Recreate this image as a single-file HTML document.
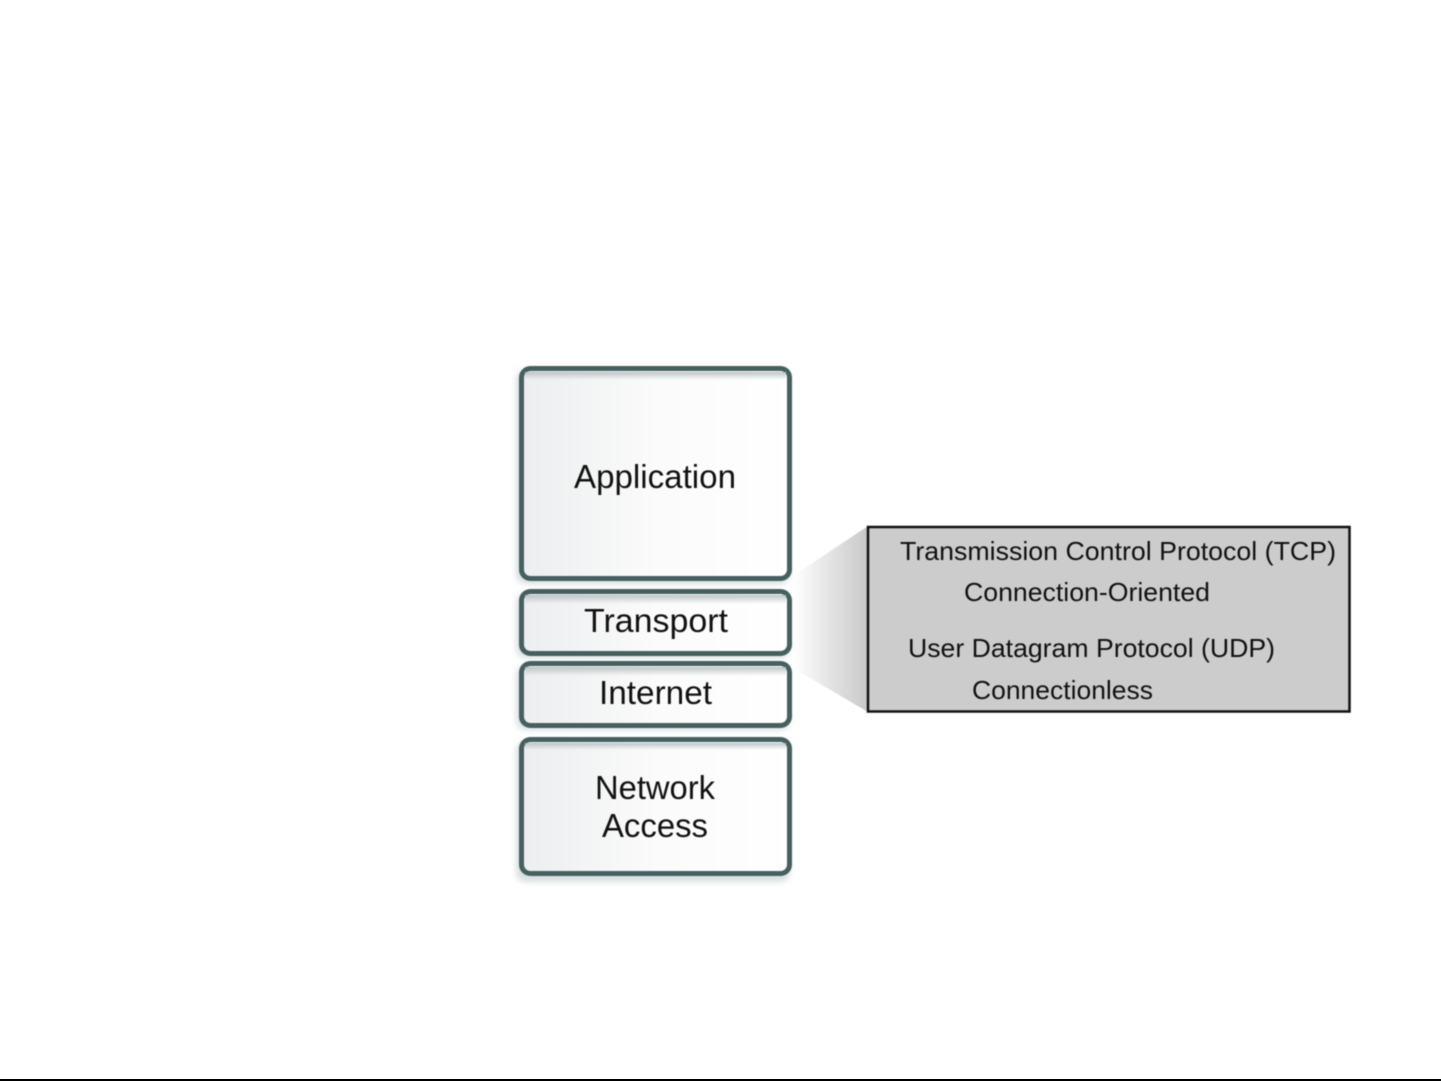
<!DOCTYPE html>
<html><head><meta charset="utf-8"><style>
html,body{margin:0;padding:0;background:#fff;width:1441px;height:1081px;overflow:hidden;position:relative}
svg{display:block;filter:blur(.6px)}
text{font-family:"Liberation Sans",Arial,sans-serif;fill:#111}
#line{position:absolute;left:0;top:1079px;width:1441px;height:2px;background:#000}
</style></head><body>
<svg width="1441" height="1081" viewBox="0 0 1441 1081" xmlns="http://www.w3.org/2000/svg">
<defs>
<linearGradient id="fill" x1="0" y1="0" x2="1" y2="0"><stop offset="0" stop-color="#eceeef"/><stop offset=".5" stop-color="#fbfbfb"/><stop offset="1" stop-color="#ffffff"/></linearGradient>
<linearGradient id="fan" gradientUnits="userSpaceOnUse" x1="793" y1="0" x2="868" y2="0"><stop offset="0" stop-color="#ffffff"/><stop offset="1" stop-color="#c8c8c8"/></linearGradient>
<linearGradient id="top" x1="0" y1="0" x2="0" y2="1"><stop offset="0" stop-color="#bcc3c5"/><stop offset="1" stop-color="#c4c9cb" stop-opacity="0"/></linearGradient>
<filter id="sh" x="-10%" y="-10%" width="120%" height="120%"><feGaussianBlur stdDeviation="3"/></filter>
</defs>
<rect width="1441" height="1081" fill="#fff"/>
<polygon points="793,576 868,526 868,712 793,668" fill="url(#fan)"/>

<g fill="#b9c6c8" opacity=".55" filter="url(#sh)">
<rect x="516" y="370" width="274" height="214" rx="10"/>
<rect x="516" y="593" width="274" height="65" rx="10"/>
<rect x="516" y="665" width="274" height="65" rx="10"/>
<rect x="516" y="741" width="274" height="141" rx="10"/>
</g>

<g fill="url(#fill)" stroke="#46605f" stroke-width="5">
<rect x="521.500" y="368.500" width="268" height="210" rx="9"/>
<rect x="521.500" y="591.500" width="268" height="62" rx="9"/>
<rect x="521.500" y="663.500" width="268" height="62" rx="9"/>
<rect x="521.500" y="739.500" width="268" height="134" rx="9"/>
</g>
<g fill="url(#top)">
<rect x="525" y="372" width="261" height="8"/>
<rect x="525" y="595" width="261" height="9"/>
<rect x="525" y="667" width="261" height="9"/>
<rect x="525" y="743" width="261" height="7"/>
</g>

<g font-size="33">
<text x="574" y="488" textLength="162" lengthAdjust="spacingAndGlyphs">Application</text>
<text x="584" y="632" textLength="144" lengthAdjust="spacingAndGlyphs">Transport</text>
<text x="599" y="704" textLength="113" lengthAdjust="spacingAndGlyphs">Internet</text>
<text x="595" y="799" textLength="120" lengthAdjust="spacingAndGlyphs">Network</text>
<text x="602" y="837" textLength="106" lengthAdjust="spacingAndGlyphs">Access</text>
</g>

<rect x="868" y="527" width="481.500" height="184.500" fill="#cccccc" stroke="#111" stroke-width="2.500"/>
<g font-size="26">
<text x="900" y="560" textLength="436" lengthAdjust="spacingAndGlyphs">Transmission Control Protocol (TCP)</text>
<text x="964" y="601" textLength="246" lengthAdjust="spacingAndGlyphs">Connection-Oriented</text>
<text x="908" y="657" textLength="367" lengthAdjust="spacingAndGlyphs">User Datagram Protocol (UDP)</text>
<text x="972" y="699" textLength="181" lengthAdjust="spacingAndGlyphs">Connectionless</text>
</g>
</svg>
<div id="line"></div>
</body></html>
